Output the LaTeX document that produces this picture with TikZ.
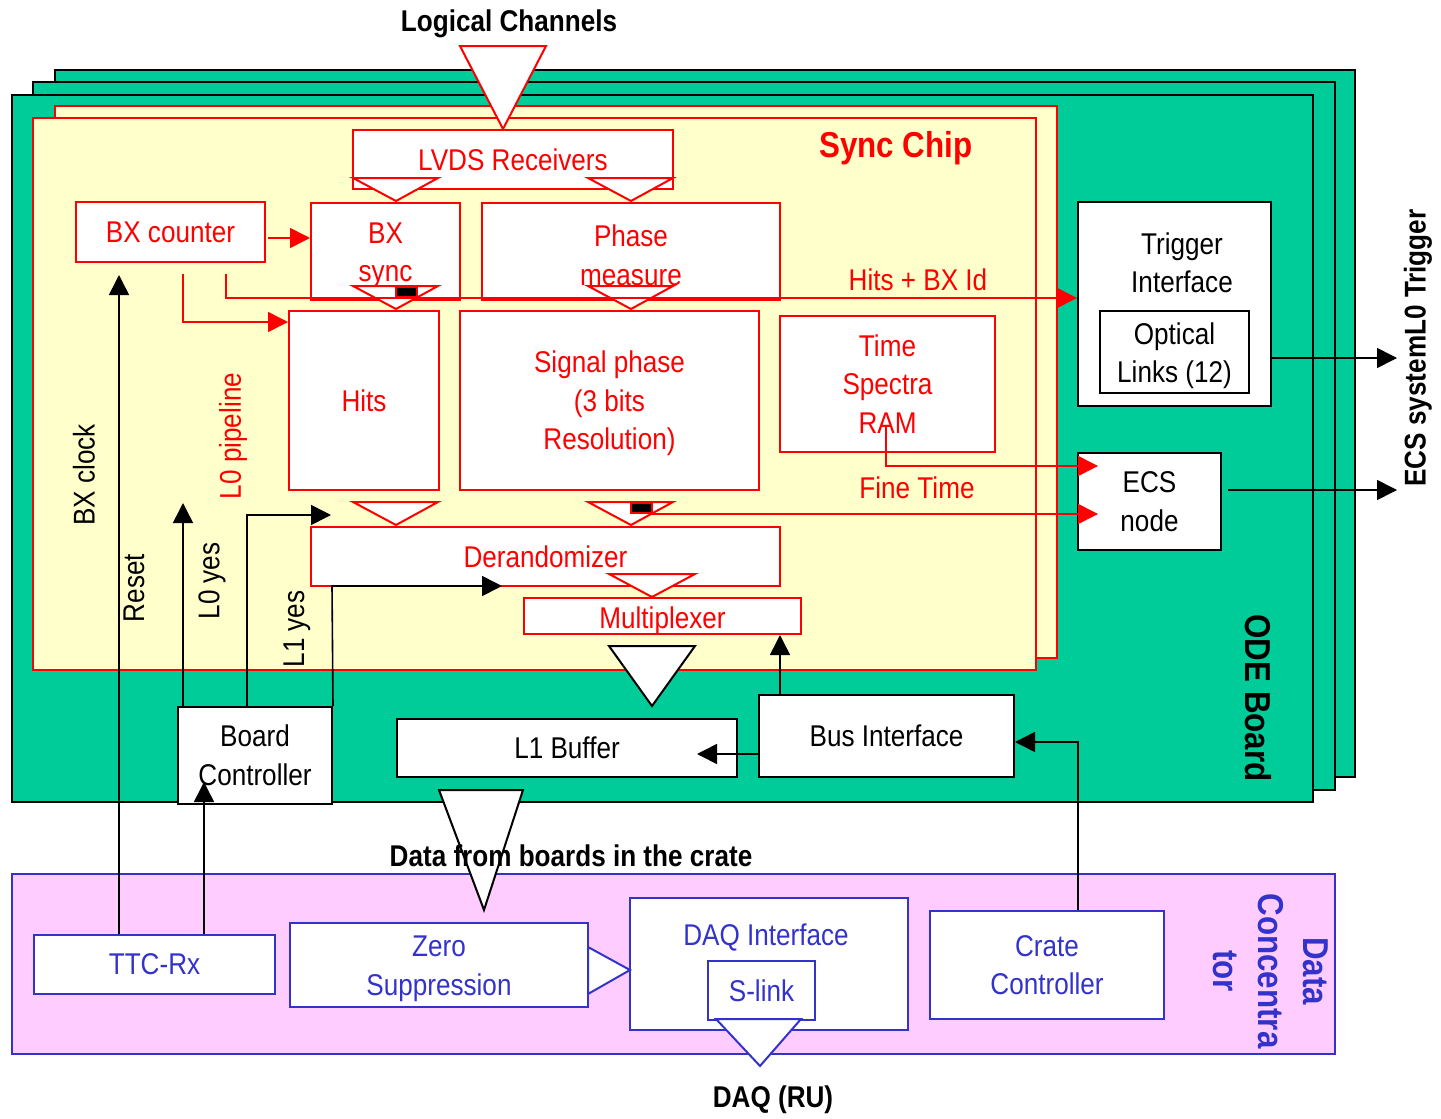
\documentclass[tikz,border=0pt]{standalone}
\usepackage{fontspec}
\setmainfont{Liberation Sans}[FakeStretch=0.87]
\usetikzlibrary{arrows.meta,fit,calc}
\definecolor{odegreen}{HTML}{00CC99}
\definecolor{chipyellow}{HTML}{FFFFCC}
\definecolor{dcpink}{HTML}{FFCCFF}
\definecolor{dcblue}{HTML}{3333CC}
\begin{document}
\begin{tikzpicture}[x=0.5pt,y=-0.5pt,
  every node/.style={font=\fontsize{15}{19.25}\selectfont, inner sep=0pt, align=center},
  bigbold/.style={font=\bfseries\fontsize{18}{22.5}\selectfont},
  midbold/.style={font=\bfseries\fontsize{15}{19}\selectfont},
  wh/.style 2 args={minimum width=#1*0.5pt, minimum height=#2*0.5pt},
  board/.style={draw=black, fill=odegreen, line width=1pt},
  chip/.style={draw=red, fill=chipyellow, line width=1pt},
  dconc/.style={draw=dcblue, fill=dcpink, line width=1pt},
  redbox/.style={draw=red, fill=white, line width=1pt, text=red},
  blkbox/.style={draw=black, fill=white, line width=1pt, text=black},
  bluebox/.style={draw=dcblue, fill=white, line width=1pt, text=dcblue},
  redtri/.style={draw=red, fill=white, line width=1pt},
  blktri/.style={draw=black, fill=white, line width=1pt},
  bluetri/.style={draw=dcblue, fill=white, line width=1pt},
  redarr/.style={draw=red, line width=0.8pt, -{Triangle[length=10pt,width=10pt]}, color=red},
  blkarr/.style={draw=black, line width=0.8pt, -{Triangle[length=10pt,width=10pt]}},
]
\useasboundingbox (0,0) rectangle (1441,1119);

% ODE boards
\node[board, fit={(55,70) (1355,777)}] (g3) {};
\node[board, fit={(33,82) (1335,790)}] (g2) {};
\node[board, fit={(12,95) (1313,802)}] (g1) {};
% Sync chips
\node[chip, fit={(55,106) (1057,658)}] (c2) {};
\node[chip, fit={(33,118) (1036,670)}] (c1) {};
% Data concentrator
\node[dconc, fit={(12,874) (1335,1054)}] (dc) {};

% red boxes
\node[redbox, wh={320}{59}] (lvds) at (513,159.5) {LVDS Receivers};
\node[redbox, wh={189}{60}] (bxc) at (170.5,232) {BX counter};
\node[redbox, wh={149}{97}] (bxs) at (385.5,251.5) {};
\node[text=red] (bxst) at (385.5,255.5) {BX\\sync};
\node[redbox, wh={298}{97}] (phm) at (631,251.5) {};
\node[text=red] (phmt) at (631,255.5) {Phase\\measure};
\node[redbox, wh={150}{179}] (hits) at (364,400.5) {Hits};
\node[redbox, wh={299}{179}] (sig) at (609.5,400.5) {};
\node[text=red] (sigt) at (609.5,403.5) {Signal phase\\(3 bits\\Resolution)};
\node[redbox, wh={215}{136}] (tsr) at (887.5,384) {Time\\Spectra\\RAM};
\node[redbox, wh={469}{59}] (der) at (545.5,556.5) {Derandomizer};
\node[redbox, wh={277}{36}] (mux) at (662.5,616) {};
\node[text=red] (muxt) at (662.5,620.5) {Multiplexer};

% black boxes
\node[blkbox, wh={193}{204}] (trig) at (1174.5,304) {};
\node (trigtxt) at (1182,263) {Trigger\\Interface};
\node[blkbox, wh={149}{82}] (opt) at (1174.5,352) {};
\node (optt) at (1174.5,355.5) {Optical\\Links (12)};
\node[blkbox, wh={143}{97}] (ecs) at (1149.5,501.5) {ECS\\node};
\node[blkbox, wh={255}{82}] (bus) at (886.5,736) {Bus Interface};
\node[blkbox, wh={340}{58}] (l1b) at (567,748) {L1 Buffer};
\node[blkbox, wh={154}{97}] (bc) at (255,755.5) {Board\\Controller};

% blue boxes
\node[bluebox, wh={241}{59}] (ttc) at (154.5,964.5) {TTC-Rx};
\node[bluebox, wh={298}{84}] (zs) at (439,964.5) {};
\node[text=dcblue] (zst) at (439,969) {Zero\\Suppression};
\node[bluebox, wh={278}{132}] (daq) at (769,964) {};
\node[text=dcblue] (daqtxt) at (766,937) {DAQ Interface};
\node[bluebox, wh={107}{59}] (sl) at (761.5,990.5) {S-link};
\node[bluebox, wh={234}{108}] (cc) at (1047,965) {Crate\\Controller};

% triangles
\draw[redtri] (460,46) -- (546,46) -- (503,129) -- cycle;
\draw[redtri] (353,178) -- (438,178) -- (396,201) -- cycle;
\draw[redtri] (588,178) -- (673,178) -- (631,201) -- cycle;
\draw[redtri] (353,286) -- (438,286) -- (396,309) -- cycle;
\draw[redtri] (588,286) -- (673,286) -- (631,309) -- cycle;
\draw[redtri] (353,502) -- (438,502) -- (396,525) -- cycle;
\draw[redtri] (588,502) -- (673,502) -- (631,525) -- cycle;
\draw[redtri] (609,574) -- (695,574) -- (652,597) -- cycle;
\draw[blktri] (609,646) -- (695,646) -- (652,706) -- cycle;
\draw[blktri] (439,790) -- (523,790) -- (484,910) -- cycle;
\draw[bluetri] (588,947) -- (630,970) -- (588,994) -- cycle;
\draw[bluetri] (716,1019) -- (801,1019) -- (760,1066) -- cycle;

% red connectors
\coordinate (a1) at (268,238);
\draw[redarr] (a1) -- (a1 -| bxs.west);
\coordinate (hb1) at (226,274);
\coordinate (hb2) at (226,298);
\draw[redarr] (hb1) -- (hb2) -- (hb2 -| trig.west);
\coordinate (hi1) at (183,274);
\coordinate (hi2) at (183,322);
\draw[redarr] (hi1) -- (hi2) -- (hi2 -| hits.west);
\coordinate (ft1) at (886,425);
\coordinate (ft2) at (886,466);
\draw[redarr] (ft1) -- (ft2) -- ($(ft2 -| ecs.west)+(21,0)$);
\coordinate (sp1) at (652,514);
\draw[redarr] (sp1) -- ($(sp1 -| ecs.west)+(21,0)$);
% small black markers
\draw[fill=black, draw=red, line width=0.6pt] (396,287) rectangle (417,297);
\draw[fill=black, draw=red, line width=0.6pt] (631,503) rectangle (652,513);

% black connectors
\coordinate (bm) at (780,695);
\draw[blkarr] (bm) -- (bm |- mux.south);
\coordinate (bl) at (759,754);
\draw[blkarr] (bl) -- ($(bl -| l1b.east)+(-41,0)$);
\coordinate (cb2) at (1078,742);
\draw[blkarr] (cc.north -| cb2) -- (cb2) -- (cb2 -| bus.east);
\coordinate (to2) at (1397,358);
\draw[blkarr] (trig.east |- to2) -- (to2);
\coordinate (eo) at (1397,490);
\draw[blkarr] ($(ecs.east |- eo)+(6,0)$) -- (eo);
\coordinate (rs) at (119,275);
\draw[blkarr] (ttc.north -| rs) -- (rs);
\coordinate (tb) at (204,782);
\draw[blkarr] (ttc.north -| tb) -- (tb);
\coordinate (l0) at (183,503);
\draw[blkarr] (bc.north -| l0) -- (l0);
\coordinate (q1) at (247,515);
\coordinate (q2) at (331,515);
\draw[blkarr] (bc.north -| q1) -- (q1) -- (q2);
\coordinate (r1) at (332,586);
\coordinate (r2) at (502,586);
\draw[blkarr] (bc.north east) -- (r1) -- (r2);

% labels
\node[midbold] (lc) at (509,24) {Logical Channels};
\node[bigbold, text=red] (sc) at (896,148) {Sync Chip};
\node[text=red] (hbid) at (918,280) {Hits + BX Id};
\node[text=red] (ftime) at (917,488) {Fine Time};
\node[rotate=90] (bxclk) at (84,475) {BX clock};
\node[rotate=90] (rst) at (134,588) {Reset};
\node[rotate=90] (l0y) at (212,581) {L0 yes};
\node[rotate=90] (l1y) at (297,629) {L1 yes};
\node[rotate=90, text=red] (l0p) at (233,436) {L0 pipeline};
\node[bigbold, rotate=-90] (ode) at (1258,698) {ODE Board};
\node[midbold, rotate=90] (ecst) at (1418,348) {ECS systemL0 Trigger};
\node[midbold] (dfb) at (571,856) {Data from boards in the crate};
\node[midbold] (daqru) at (773,1100) {DAQ (RU)};
\node[bigbold, rotate=-90, text=dcblue] (dct) at (1271,971) {Data\\Concentra\\tor};
\end{tikzpicture}
\end{document}
